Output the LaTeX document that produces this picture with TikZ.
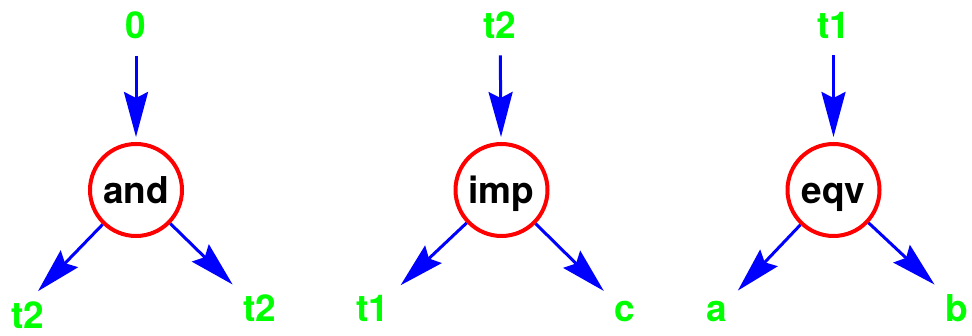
\documentclass[tikz,border=0pt]{standalone}
\usepackage{fontspec}
\setmainfont{TeX Gyre Heros}
\usetikzlibrary{arrows.meta}
\tikzset{
  opnode/.style={circle,draw=red,line width=4pt,minimum size=92pt,inner sep=0pt,
    text height=27pt,text depth=0pt,font=\fontsize{37}{40}\selectfont\bfseries},
  leaf/.style={text=green,inner sep=0pt,anchor=base,font=\fontsize{37}{40}\selectfont\bfseries},
  arr/.style={blue,line width=3pt,-{Stealth[length=45pt,width=24pt,inset=6pt]}},
  inarr/.style={arr,shorten <=16pt,shorten >=5pt},
  outarr/.style={arr,shorten >=15pt},
}
\begin{document}
\begin{tikzpicture}[x=1pt,y=-1pt]
  \useasboundingbox (0,0) rectangle (972,336);
  % and
  \node[opnode] (and) at (136,190) {and};
  \node[leaf] (andin) at (136,39) {0};
  \node[leaf] (andl) at (27.5,329) {t2};
  \node[leaf] (andr) at (260,322) {t2};
  \draw[inarr] (andin) -- (and);
  \draw[outarr] (and) -- (andl.north);
  \draw[outarr] (and) -- (andr.north west);
  % imp
  \node[opnode] (imp) at (501.5,190) {imp};
  \node[leaf] (impin) at (500,39) {t2};
  \node[leaf] (impl) at (373,322) {t1};
  \node[leaf] (impr) at (625,322) {c};
  \draw[inarr] (impin) -- (imp);
  \draw[outarr] (imp) -- (impl.north east);
  \draw[outarr] (imp) -- (impr.north west);
  % eqv
  \node[opnode] (eqv) at (833.5,190) {eqv};
  \node[leaf] (eqvin) at (833.5,39) {t1};
  \node[leaf] (eqvl) at (717,322) {a};
  \node[leaf] (eqvr) at (957,322) {b};
  \draw[inarr] (eqvin) -- (eqv);
  \draw[outarr] (eqv) -- (eqvl.north east);
  \draw[outarr] (eqv) -- (eqvr.north west);
\end{tikzpicture}
\end{document}
